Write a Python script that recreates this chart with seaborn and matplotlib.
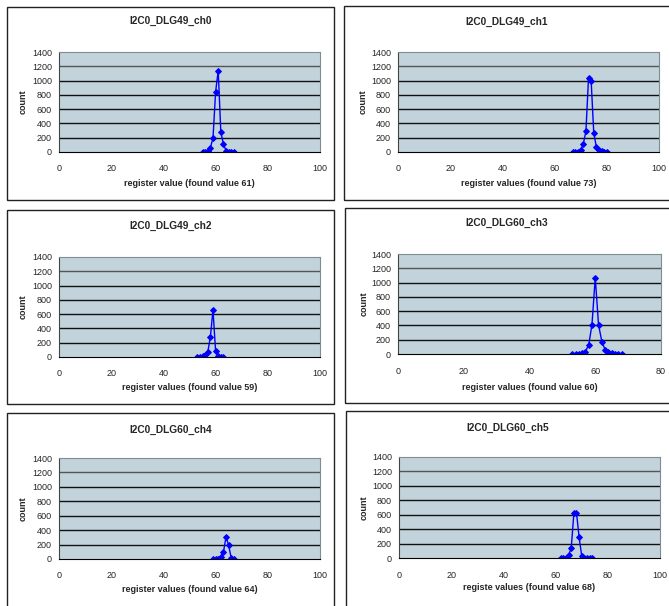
import numpy as np
import pandas as pd
import matplotlib
matplotlib.use("Agg")
import matplotlib.pyplot as plt
from matplotlib.patches import Rectangle
import seaborn as sns

# register value histograms, one per channel
titles = ['I2C0_DLG49_ch0', 'I2C0_DLG49_ch1', 'I2C0_DLG49_ch2',
          'I2C0_DLG60_ch3', 'I2C0_DLG60_ch4', 'I2C0_DLG60_ch5']
xlabels = ['register value (found value 61)', 'register values (found value 73)',
           'register values (found value 59)', 'register values (found value 60)',
           'register values (found value 64)', 'registe values (found value 68)']
xmax = [100, 100, 100, 80, 100, 100]

ch0_reg = [55, 56, 57, 58, 59, 60, 61, 62, 63, 64, 65, 66, 67]
ch0_cnt = [0, 0, 10, 60, 195, 840, 1140, 280, 110, 20, 5, 0, 0]
ch1_reg = [67, 68, 69, 70, 71, 72, 73, 74, 75, 76, 77, 78, 79, 80]
ch1_cnt = [0, 0, 5, 30, 115, 290, 1040, 1000, 270, 70, 30, 10, 5, 0]
ch2_reg = [53, 54, 55, 56, 57, 58, 59, 60, 61, 62, 63]
ch2_cnt = [0, 0, 10, 25, 70, 280, 660, 80, 15, 5, 0]
ch3_reg = [53, 54, 55, 56, 57, 58, 59, 60, 61, 62, 63, 64, 65, 66, 67, 68]
ch3_cnt = [0, 0, 5, 20, 35, 125, 410, 1070, 410, 175, 60, 30, 10, 5, 0, 0]
ch4_reg = [59, 60, 61, 62, 63, 64, 65, 66, 67]
ch4_cnt = [0, 0, 5, 30, 95, 305, 190, 10, 0]
ch5_reg = [62, 63, 64, 65, 66, 67, 68, 69, 70, 71, 72, 73, 74]
ch5_cnt = [0, 0, 5, 40, 140, 620, 630, 290, 30, 5, 0, 0, 0]

regs = [ch0_reg, ch1_reg, ch2_reg, ch3_reg, ch4_reg, ch5_reg]
cnts = [ch0_cnt, ch1_cnt, ch2_cnt, ch3_cnt, ch4_cnt, ch5_cnt]

sns.set_style('white')
plt.rcParams['font.family'] = ['Liberation Sans', 'DejaVu Sans']

W, H = 669, 606
fig = plt.figure(figsize=(W / 100, H / 100), dpi=100)

# pixel boxes: (left, right, top, bottom)
axes_px = [(59, 320, 52, 152), (398, 659, 52, 152),
           (59, 320, 257, 357), (398, 661, 254, 354),
           (59, 320, 458, 559), (399, 660, 457, 558)]
frame_px = [(7, 334, 7, 200), (344, 672, 6, 200),
            (7, 334, 210, 404), (345, 672, 208, 403),
            (7, 334, 413, 610), (346, 672, 411, 610)]
title_y = [21, 22, 226, 223, 430, 428]
xlabel_y = [183, 184, 388, 387, 590, 588]
ylabel_x = [23, 363, 23, 364, 23, 364]

for i in range(6):
    fl, fr, ft, fb = frame_px[i]
    fig.patches.append(Rectangle((fl / W, 1 - fb / H), (fr - fl) / W, (fb - ft) / H,
                                 transform=fig.transFigure, fill=False,
                                 edgecolor='#222222', linewidth=1.0))
    l, r, t, b = axes_px[i]
    ax = fig.add_axes([l / W, 1 - b / H, (r - l) / W, (b - t) / H])
    ax.set_facecolor('#c2d3db')
    df = pd.DataFrame({'reg': regs[i], 'count': cnts[i]})
    sns.lineplot(data=df, x='reg', y='count', ax=ax, color='#0000ff',
                 marker='D', markersize=3, markeredgecolor='#0000ff',
                 linewidth=1.0)
    ax.set_xlim(0, xmax[i])
    ax.set_ylim(0, 1400)
    ax.set_xticks(np.arange(0, xmax[i] + 1, 20))
    ax.set_yticks(np.arange(0, 1401, 200))
    for yv in range(200, 1400, 200):
        ax.axhline(yv, color='#111111' if yv < 1200 else '#555555', linewidth=1.0, zorder=1)
    for side in ['top', 'right']:
        ax.spines[side].set_color('#7f8c92')
        ax.spines[side].set_linewidth(0.8)
    ax.spines['left'].set_color('#444444')
    ax.spines['bottom'].set_color('#000000')
    ax.tick_params(axis='both', direction='out', length=3, width=0.8,
                   labelsize=6.5, color='#222222', pad=2)
    ax.tick_params(axis='x', pad=6)
    ax.set_xlabel('')
    ax.set_ylabel('')
    cx = (fl + fr) / 2 if i % 2 == 0 else (fl + 669) / 2
    fig.text(cx / W, 1 - title_y[i] / H, titles[i], ha='center', va='center',
             fontsize=7.3, fontweight='bold')
    fig.text((l + r) / 2 / W, 1 - xlabel_y[i] / H, xlabels[i], ha='center',
             va='center', fontsize=6.5, fontweight='bold')
    fig.text(ylabel_x[i] / W, 1 - (t + b) / 2 / H, 'count', ha='center',
             va='center', rotation=90, fontsize=6.5, fontweight='bold')

fig.savefig('out.png', dpi=100, facecolor='white')
